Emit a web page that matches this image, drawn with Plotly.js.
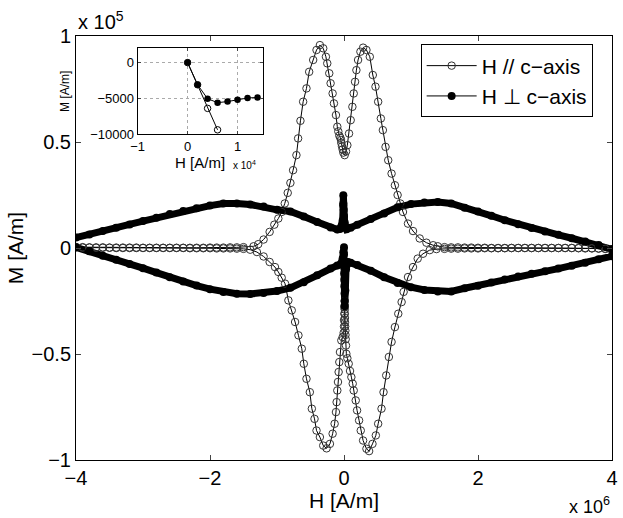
<!DOCTYPE html>
<html>
<head>
<meta charset="utf-8">
<script src="https://cdn.plot.ly/plotly-3.0.1.min.js"></script>
<style>html,body{margin:0;padding:0;background:#fff;}#chart{width:623px;height:518px;}</style>
</head>
<body>
<div id="chart"></div>
<script>
// Main plot: H in units of 1e6 A/m, M in units of 1e5 A/m
// H // c-axis (open circles), traced as one closed loop
const parH = [
  4.0,3.9,3.8,3.7,3.6,3.5,3.4,3.3,3.2,3.1,3.0,2.9,2.8,2.7,2.6,2.5,2.4,2.3,2.2,2.1,2.0,1.9,1.8,1.7,1.6,1.5,
  1.40,1.33,1.23,1.13,1.03,0.955,0.88,0.84,0.80,0.76,0.71,0.66,0.62,0.58,0.55,0.51,0.47,0.43,0.385,0.335,0.285,0.245,0.21,0.185,0.165,0.145,0.125,0.10,0.075,0.05,0.03,0.01,
  -0.01,-0.02,-0.03,-0.04,-0.045,-0.055,-0.07,-0.085,-0.10,-0.12,-0.15,-0.17,-0.20,-0.22,-0.25,-0.27,-0.31,-0.36,-0.41,-0.46,-0.52,-0.56,-0.61,-0.65,-0.685,-0.71,-0.76,-0.80,-0.84,-0.884,-0.93,-0.98,-1.04,-1.11,-1.20,-1.28,-1.35,
  -1.5,-1.6,-1.7,-1.8,-1.9,-2.0,-2.1,-2.2,-2.3,-2.4,-2.5,-2.6,-2.7,-2.8,-2.9,-3.0,-3.1,-3.2,-3.3,-3.4,-3.5,-3.6,-3.7,-3.8,-3.9,-4.0,
  -4.0,-3.9,-3.8,-3.7,-3.6,-3.5,-3.4,-3.3,-3.2,-3.1,-3.0,-2.9,-2.8,-2.7,-2.6,-2.5,-2.4,-2.3,-2.2,-2.1,-2.0,-1.9,-1.8,-1.7,-1.6,-1.5,
  -1.40,-1.30,-1.20,-1.11,-1.03,-0.98,-0.93,-0.88,-0.83,-0.78,-0.73,-0.68,-0.63,-0.60,-0.56,-0.51,-0.48,-0.44,-0.41,-0.36,-0.31,-0.26,-0.21,-0.17,-0.14,-0.12,-0.11,-0.10,-0.09,-0.08,-0.07,-0.06,-0.04,-0.02,-0.005,
  0.0,0.0,0.005,0.005,0.01,0.01,0.012,0.012,0.014,0.015,0.017,0.02,0.022,0.025,0.03,0.035,0.05,0.07,0.09,0.11,0.13,0.145,0.175,0.195,0.225,0.25,0.285,0.335,0.375,0.425,0.475,0.51,0.56,0.59,0.63,0.67,0.71,0.76,0.81,0.86,0.89,0.955,1.03,1.10,1.18,1.28,1.38,
  1.5,1.6,1.7,1.8,1.9,2.0,2.1,2.2,2.3,2.4,2.5,2.6,2.7,2.8,2.9,3.0,3.1,3.2,3.3,3.4,3.5,3.6,3.7,3.8,3.9,4.0
];
const parM = [
  -0.006,-0.004,-0.003,-0.002,-0.002,-0.001,0,0,0,0,0,0,0,0,0,0,0,0,0,0.001,0.001,0.002,0.002,0.003,0.003,0.004,
  0.008,0.013,0.025,0.045,0.08,0.115,0.17,0.21,0.25,0.296,0.351,0.414,0.477,0.556,0.611,0.69,0.761,0.816,0.902,0.934,0.945,0.926,0.887,0.839,0.784,0.729,0.666,0.603,0.54,0.485,0.455,0.438,
  0.45,0.465,0.48,0.495,0.51,0.52,0.53,0.55,0.572,0.627,0.682,0.729,0.777,0.824,0.871,0.902,0.942,0.957,0.934,0.887,0.831,0.753,0.69,0.60,0.517,0.438,0.367,0.307,0.26,0.21,0.17,0.139,0.11,0.076,0.04,0.018,0.008,
  0.004,0.003,0.003,0.002,0.002,0.002,0.001,0.001,0.001,0.001,0.001,0.001,0.001,0.001,0.001,0.001,0.002,0.002,0.002,0.002,0.002,0.003,0.003,0.003,0.004,0.005,
  0.003,0.002,0.002,0.001,0.001,0.001,0,0,0,0,0,0,0,0,0,0,0,-0.001,-0.001,-0.001,-0.001,-0.002,-0.002,-0.002,-0.003,-0.004,
  -0.008,-0.019,-0.04,-0.066,-0.09,-0.113,-0.14,-0.168,-0.247,-0.294,-0.349,-0.412,-0.475,-0.546,-0.617,-0.68,-0.758,-0.806,-0.861,-0.892,-0.932,-0.945,-0.924,-0.876,-0.829,-0.774,-0.727,-0.672,-0.632,-0.585,-0.538,-0.491,-0.436,-0.42,-0.40,
  -0.37,-0.34,-0.31,-0.28,-0.25,-0.27,-0.29,-0.31,-0.33,-0.35,-0.37,-0.39,-0.41,-0.43,-0.46,-0.499,-0.52,-0.546,-0.58,-0.609,-0.64,-0.672,-0.719,-0.766,-0.813,-0.861,-0.908,-0.947,-0.958,-0.924,-0.884,-0.829,-0.758,-0.68,-0.601,-0.514,-0.443,-0.373,-0.31,-0.255,-0.207,-0.137,-0.09,-0.05,-0.027,-0.01,-0.005,
  -0.004,-0.003,-0.003,-0.002,-0.002,-0.002,-0.001,-0.001,-0.001,-0.001,0,0,0,0,0,0,0,0,0,0,0,0,-0.001,-0.002,-0.004,-0.006
];

// H ⊥ c-axis (filled circles): lower branch left->right, then upper branch right->left
const perpH = [
  -4.0,-3.8,-3.6,-3.4,-3.2,-3.0,-2.8,-2.6,-2.4,-2.2,-2.0,-1.8,-1.6,-1.4,-1.2,-1.0,-0.8,-0.6,-0.4,-0.2,-0.1,-0.05,-0.02,-0.01,
  0.0,0.0,0.0,0.002,0.003,0.005,0.006,0.008,0.01,0.01,0.02,0.03,0.06,0.1,0.2,0.4,0.6,0.8,1.0,1.2,1.4,1.6,1.8,2.0,2.2,2.4,2.6,2.8,3.0,3.2,3.4,3.6,3.8,4.0,
  4.0,3.8,3.6,3.4,3.2,3.0,2.8,2.6,2.4,2.2,2.0,1.8,1.6,1.4,1.2,1.0,0.8,0.6,0.4,0.2,0.1,0.04,0.01,0.0,-0.005,-0.01,-0.01,-0.012,-0.02,-0.06,-0.1,-0.2,-0.4,-0.6,-0.8,-1.0,-1.2,-1.4,-1.6,-1.8,-2.0,-2.2,-2.4,-2.6,-2.8,-3.0,-3.2,-3.4,-3.6,-3.8,-4.0
];
const perpM = [
  0.003,-0.015,-0.036,-0.056,-0.075,-0.095,-0.116,-0.138,-0.158,-0.177,-0.194,-0.207,-0.216,-0.217,-0.212,-0.203,-0.188,-0.162,-0.129,-0.097,-0.083,-0.075,-0.05,-0.02,
  0.003,-0.03,-0.06,-0.09,-0.12,-0.15,-0.18,-0.215,-0.25,-0.275,-0.2,-0.1,-0.066,-0.07,-0.08,-0.107,-0.138,-0.165,-0.185,-0.198,-0.205,-0.205,-0.19,-0.178,-0.163,-0.148,-0.135,-0.122,-0.11,-0.097,-0.084,-0.07,-0.053,-0.039,
  -0.006,0.014,0.031,0.046,0.062,0.078,0.094,0.112,0.131,0.152,0.172,0.19,0.21,0.217,0.215,0.207,0.192,0.163,0.137,0.11,0.095,0.088,0.12,0.15,0.18,0.21,0.249,0.2,0.13,0.09,0.087,0.097,0.123,0.148,0.172,0.18,0.196,0.205,0.21,0.21,0.2,0.187,0.174,0.16,0.143,0.127,0.111,0.095,0.08,0.064,0.049
];

// Inset: H in units of 1e4 A/m, M in A/m
const insetParH = [0, 0.2, 0.4, 0.6];
const insetParM = [0, -3100, -6400, -9400];
const insetPerpH = [0, 0.2, 0.4, 0.6, 0.8, 1.0, 1.2, 1.4];
const insetPerpM = [0, -3100, -5050, -5600, -5450, -5200, -4950, -4870];

const xTicks = [-4, -2, 0, 2, 4];
const yTicks = [-1, -0.5, 0, 0.5, 1];
const insetXTicks = [-1, 0, 1];
const insetYTicks = [-10000, -5000, 0];

const FONT = 'Liberation Sans, Arial, Helvetica, sans-serif';

const traces = [
  {x: perpH, y: perpM, type: 'scatter', mode: 'lines', showlegend: false, hoverinfo: 'skip',
   line: {color: '#000', width: 7}, xaxis: 'x', yaxis: 'y'},
  {x: parH, y: parM, type: 'scatter', mode: 'lines+markers', name: 'H // c\u2212axis',
   line: {color: '#000', width: 1},
   marker: {symbol: 'circle-open', size: 7.5, color: '#333', line: {width: 1, color: '#333'}},
   xaxis: 'x', yaxis: 'y'},
  {x: perpH, y: perpM, type: 'scatter', mode: 'lines+markers', name: 'H \u22A5 c\u2212axis',
   line: {color: '#000', width: 1},
   marker: {symbol: 'circle', size: 8, color: '#000'},
   xaxis: 'x', yaxis: 'y'},
  {x: insetParH, y: insetParM, type: 'scatter', mode: 'lines+markers', showlegend: false,
   line: {color: '#000', width: 1},
   marker: {symbol: 'circle-open', size: 6.5, color: '#000', line: {width: 1, color: '#000'}},
   xaxis: 'x2', yaxis: 'y2'},
  {x: insetPerpH, y: insetPerpM, type: 'scatter', mode: 'lines+markers', showlegend: false,
   line: {color: '#000', width: 1},
   marker: {symbol: 'circle', size: 6.5, color: '#000'},
   xaxis: 'x2', yaxis: 'y2'}
];

const layout = {
  width: 623, height: 518,
  margin: {l: 76, r: 11, t: 36, b: 58},
  paper_bgcolor: '#fff', plot_bgcolor: '#fff',
  font: {family: FONT, color: '#000', size: 20},
  showlegend: true,
  legend: {x: 0.643, y: 0.98, xanchor: 'left', yanchor: 'top',
           bgcolor: '#fff', bordercolor: '#000', borderwidth: 1,
           itemwidth: 50,
           font: {family: FONT, size: 21, color: '#000'}},
  xaxis: {domain: [0, 1], range: [-4, 4], tickvals: xTicks, ticks: 'inside', ticklen: 5,
          showline: true, linecolor: '#000', linewidth: 1, mirror: 'ticks', showgrid: false, zeroline: false,
          tickfont: {size: 20}, title: {text: 'H [A/m]', font: {size: 21}, standoff: 0}},
  yaxis: {domain: [0, 1], range: [-1, 1], tickvals: yTicks, ticks: 'inside', ticklen: 5,
          showline: true, linecolor: '#000', linewidth: 1, mirror: 'ticks', showgrid: false, zeroline: false,
          tickfont: {size: 20}, title: {text: 'M [A/m]', font: {size: 21}, standoff: 2}},
  xaxis2: {domain: [0.115, 0.348], anchor: 'y2', range: [-1, 1.5], tickvals: insetXTicks,
           ticks: 'inside', ticklen: 3, showline: true, linecolor: '#000', linewidth: 1, mirror: 'ticks',
           showgrid: true, gridcolor: '#aaa', griddash: 'dot', gridwidth: 1, zeroline: false,
           tickfont: {size: 13}, title: {text: 'H [A/m]', font: {size: 15}, standoff: 0}},
  yaxis2: {domain: [0.7686, 0.971], anchor: 'x2', range: [-10000, 2000], tickvals: insetYTicks, tickformat: 'd',
           ticks: 'inside', ticklen: 3, showline: true, linecolor: '#000', linewidth: 1, mirror: 'ticks',
           showgrid: true, gridcolor: '#aaa', griddash: 'dot', gridwidth: 1, zeroline: false,
           tickfont: {size: 13}, title: {text: 'M [A/m]', font: {size: 12}, standoff: 18}},
  annotations: [
    {xref: 'paper', yref: 'paper', x: 0, y: 1.002, xanchor: 'left', yanchor: 'bottom', showarrow: false,
     text: 'x 10<sup>5</sup>', font: {size: 20}},
    {xref: 'paper', yref: 'paper', x: 1.0, y: -0.108, xanchor: 'right', yanchor: 'middle', showarrow: false,
     text: 'x 10<sup>6</sup>', font: {size: 18}},
    {xref: 'paper', yref: 'paper', x: 0.315, y: 0.695, xanchor: 'center', yanchor: 'middle', showarrow: false,
     text: 'x 10<sup>4</sup>', font: {size: 10}}
  ]
};

Plotly.newPlot('chart', traces, layout, {displayModeBar: false, staticPlot: true});
</script>
</body>
</html>
